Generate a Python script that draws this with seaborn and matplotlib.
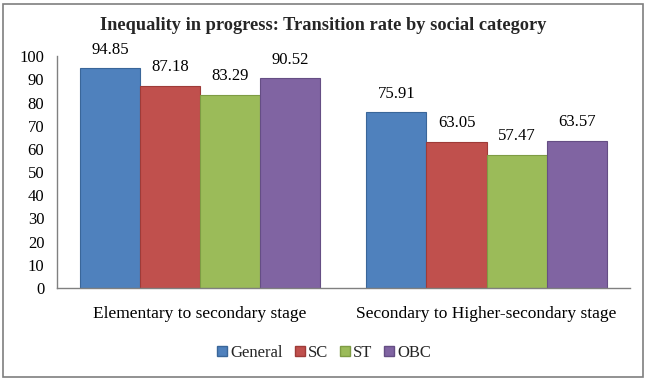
import matplotlib
matplotlib.use("Agg")
import matplotlib.pyplot as plt
import matplotlib.patches as mpatches
import pandas as pd
import seaborn as sns

stages = ["Elementary to secondary stage", "Secondary to Higher-secondary stage"]
groups = ["General", "SC", "ST", "OBC"]
general = [94.85, 75.91]
sc = [87.18, 63.05]
st = [83.29, 57.47]
obc = [90.52, 63.57]
colors = ["#4F81BD", "#C0504D", "#9BBB59", "#8064A2"]
edges = ["#3A6699", "#9E3B38", "#7E9C44", "#654E84"]

rows = []
for g, vals in zip(groups, [general, sc, st, obc]):
    for s, v in zip(stages, vals):
        rows.append({"stage": s, "group": g, "rate": v})
df = pd.DataFrame(rows)

sns.set_theme(style="white")
plt.rcParams["font.family"] = ["Liberation Serif", "DejaVu Serif"]

fig = plt.figure(figsize=(6.46, 3.82), dpi=100)
ax = fig.add_axes([0.088, 0.246, 0.887, 0.607])
sns.barplot(data=df, x="stage", y="rate", hue="group", hue_order=groups,
            palette=colors, width=0.84, gap=0, ax=ax, legend=False,
            saturation=1)

for cont, ec in zip(ax.containers, edges):
    for bar in cont:
        bar.set_edgecolor(ec)
        bar.set_linewidth(0.8)
    ax.bar_label(cont, fmt="%.2f", padding=7.5, fontsize=12, color="black")

ax.set_ylim(0, 100)
ax.set_yticks(range(0, 101, 10))
ax.set_xlim(-0.5, 1.5)
ax.set_xlabel("")
ax.set_ylabel("")
ax.tick_params(axis="both", length=0, labelsize=12, colors="black")
ax.tick_params(axis="x", labelsize=12.5, pad=13)
ax.tick_params(axis="y", pad=9)
for side in ["top", "right"]:
    ax.spines[side].set_visible(False)
for side in ["left", "bottom"]:
    ax.spines[side].set_color("#808080")
    ax.spines[side].set_linewidth(1)

fig.text(0.5, 0.932, "Inequality in progress: Transition rate by social category",
         ha="center", va="center", fontsize=13.2, fontweight="bold")

handles = [mpatches.Patch(facecolor=c, edgecolor=e, label=g)
           for c, e, g in zip(colors, edges, groups)]
fig.legend(handles=handles, loc="center", bbox_to_anchor=(0.502, 0.076), ncol=4,
           frameon=False, fontsize=12, handlelength=0.6, handleheight=0.6,
           handletextpad=0.2, columnspacing=0.7)

border = mpatches.Rectangle((0.004, 0.012), 0.991, 0.978, transform=fig.transFigure,
                            fill=False, edgecolor="#7F7F7F", linewidth=1.2)
fig.patches.append(border)

fig.savefig("out.png", dpi=100)
